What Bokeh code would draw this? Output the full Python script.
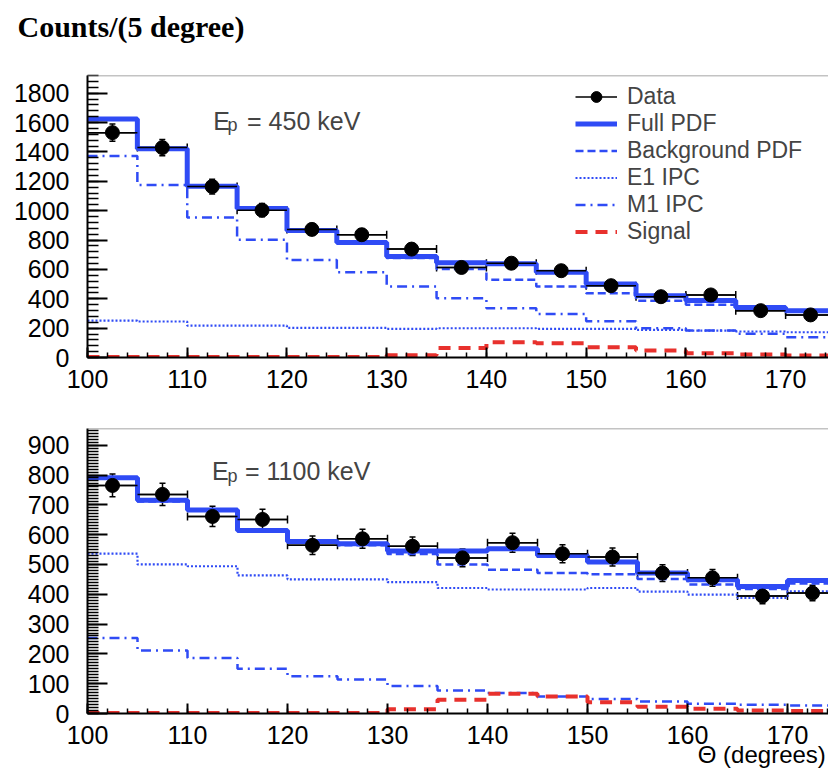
from bokeh.plotting import figure
from bokeh.models import (ColumnDataSource, Range1d, FixedTicker, Legend, LegendItem,
                          Whisker, TeeHead, Label, Span, Title)
from bokeh.layouts import column
from bokeh.embed import file_html
from bokeh.resources import INLINE

# ---------------- data ----------------
theta_edges = [100, 105, 110, 115, 120, 125, 130, 135, 140, 145, 150, 155, 160, 165, 170, 175]

# Ep = 450 keV
data_450 = [1531, 1429, 1164, 1003, 872, 836, 738, 613, 642, 591, 489, 414, 426, 319, 290]
err_450 = [58, 56, 50, 45, 40, 40, 36, 30, 32, 30, 27, 24, 25, 22, 20]
full_450 = [1624, 1422, 1166, 1014, 865, 783, 688, 645, 638, 580, 500, 420, 388, 340, 318]
bkg_450 = [1621, 1420, 1166, 1014, 864, 782, 677, 602, 530, 484, 438, 387, 360, 333, 312]
e1_450 = [251, 245, 217, 217, 202, 202, 195, 199, 199, 195, 195, 188, 183, 177, 172]
m1_450 = [1372, 1175, 953, 802, 664, 580, 484, 403, 335, 297, 247, 199, 183, 161, 138]
sig_450 = [3, 3, 3, 3, 3, 3, 16, 64, 104, 97, 70, 48, 29, 20, 14]

# Ep = 1100 keV
data_1100 = [765, 735, 661, 651, 564, 586, 561, 522, 573, 536, 525, 471, 455, 394, 404]
err_1100 = [38, 37, 34, 34, 31, 32, 31, 30, 32, 30, 30, 28, 28, 26, 26]
full_1100 = [791, 715, 683, 614, 577, 569, 545, 545, 553, 530, 508, 471, 449, 426, 446]
bkg_1100 = [789, 711, 680, 613, 575, 564, 535, 500, 482, 471, 467, 451, 433, 418, 436]
e1_1100 = [536, 500, 494, 463, 450, 450, 441, 421, 416, 416, 421, 409, 399, 388, 410]
m1_1100 = [253, 211, 186, 150, 125, 114, 92, 77, 69, 57, 49, 40, 33, 29, 27]
sig_1100 = [2, 2, 2, 2, 2, 2, 14, 46, 66, 57, 38, 23, 16, 10, 8]

x_major = [100, 110, 120, 130, 140, 150, 160, 170]
y_major_450 = [0, 200, 400, 600, 800, 1000, 1200, 1400, 1600, 1800]
y_major_1100 = [0, 100, 200, 300, 400, 500, 600, 700, 800, 900]

legend_labels = ["Data", "Full PDF", "Background PDF", "E1 IPC", "M1 IPC", "Signal"]
y_title = "Counts/(5 degree)"
x_title = "Θ (degrees)"

BLUE = "#2f4bf5"
RED = "#e8312d"
FONT = "Liberation Sans"


def panel(width, height, x_end, y_end, bl, bt, bb, data, err, full, bkg, e1, m1, sig,
          y_major, y_minor_step, with_legend):
    p = figure(width=width, height=height, output_backend="svg", toolbar_location=None,
               x_range=Range1d(100, x_end), y_range=Range1d(0, y_end),
               min_border_left=bl, min_border_right=0, min_border_top=bt,
               min_border_bottom=bb, outline_line_color=None)
    p.xgrid.visible = False
    p.ygrid.visible = False

    xs = [(theta_edges[i] + theta_edges[i + 1]) / 2 for i in range(len(data))]
    src = ColumnDataSource(dict(
        x=xs, y=data,
        x_lo=theta_edges[:-1], x_hi=theta_edges[1:],
        y_lo=[d - e for d, e in zip(data, err)],
        y_hi=[d + e for d, e in zip(data, err)],
    ))

    def step(vals, **kw):
        return p.step(x=theta_edges, y=list(vals) + [vals[-1]], mode="after", **kw)

    r_e1 = step(e1, line_color=BLUE, line_width=2.2, line_dash="2 2")
    r_m1 = step(m1, line_color=BLUE, line_width=2.5, line_dash="10 5 2 5")
    r_bkg = step(bkg, line_color=BLUE, line_width=2.5, line_dash="8 4")
    r_sig = step(sig, line_color=RED, line_width=4, line_dash="12 8")
    r_full = step(full, line_color=BLUE, line_width=5)

    r_h = p.segment(x0="x_lo", y0="y", x1="x_hi", y1="y", source=src,
                    line_color="black", line_width=1.5)
    p.add_layout(Whisker(source=src, base="y", lower="x_lo", upper="x_hi", dimension="width",
                         line_color="black", line_width=1.5,
                         lower_head=TeeHead(size=8, line_color="black", line_width=1.5),
                         upper_head=TeeHead(size=8, line_color="black", line_width=1.5)))
    p.add_layout(Whisker(source=src, base="x", lower="y_lo", upper="y_hi", dimension="height",
                         line_color="black", line_width=1.5,
                         lower_head=TeeHead(size=6, line_color="black", line_width=1.5),
                         upper_head=TeeHead(size=6, line_color="black", line_width=1.5)))
    r_pts = p.scatter(x="x", y="y", source=src, size=14, marker="circle",
                      fill_color="black", line_color="black")

    if with_legend:
        items = [LegendItem(label=legend_labels[0], renderers=[r_h, r_pts]),
                 LegendItem(label=legend_labels[1], renderers=[r_full]),
                 LegendItem(label=legend_labels[2], renderers=[r_bkg]),
                 LegendItem(label=legend_labels[3], renderers=[r_e1]),
                 LegendItem(label=legend_labels[4], renderers=[r_m1]),
                 LegendItem(label=legend_labels[5], renderers=[r_sig])]
        leg = Legend(items=items, location=(488, 112), padding=0, margin=0, spacing=0,
                     glyph_height=27, label_height=27, glyph_width=42, label_standoff=10,
                     label_text_font=FONT, label_text_font_size="23px",
                     background_fill_alpha=0, border_line_color=None)
        p.add_layout(leg)

    p.add_layout(Span(location=y_end, dimension="width", line_color="#888888", line_width=1.5))

    for ax in (p.xaxis[0], p.yaxis[0]):
        ax.axis_line_width = 2
        ax.major_tick_out = 0
        ax.minor_tick_out = 0
        ax.major_tick_line_width = 2
        ax.minor_tick_line_width = 1.5
        ax.major_label_text_font = FONT
        ax.major_label_text_font_size = "25px"
        ax.major_label_text_color = "black"
    p.xaxis.ticker = FixedTicker(ticks=x_major, minor_ticks=list(range(100, 176, 2)))
    p.xaxis.major_tick_in = 10
    p.xaxis.minor_tick_in = 5
    p.xaxis.major_label_standoff = 12
    p.yaxis.ticker = FixedTicker(ticks=y_major,
                                 minor_ticks=list(range(0, int(y_end) + 1, y_minor_step)))
    p.yaxis.major_tick_in = 20
    p.yaxis.minor_tick_in = 11
    p.yaxis.major_label_standoff = 18
    return p


p1 = panel(828, 408, 174.3, 1920, 87, 75, 51, data_450, err_450, full_450, bkg_450,
           e1_450, m1_450, sig_450, y_major_450, 40, True)
p2 = panel(828, 367, 174.1, 956, 79, 20, 62, data_1100, err_1100, full_1100, bkg_1100,
           e1_1100, m1_1100, sig_1100, y_major_1100, 10, False)

# title of the top panel, lifted by an empty spacer panel next to the frame
p1.add_layout(Title(text=" ", text_font_size="1px", standoff=25), "above")
p1.title.text = y_title
p1.title.text_font = "Liberation Serif"
p1.title.text_font_style = "bold"
p1.title.text_font_size = "30px"
p1.title.text_color = "black"
p1.title.offset = -70
p1.title.standoff = 10
p1.title.vertical_align = "bottom"

# x-axis title at the right end under the bottom panel
# (label is centred on the axis end, so trailing no-break spaces shift the glyphs left)
xa = p2.xaxis[0]
xa.axis_label = x_title + "\u00a0" * 20
xa.axis_label_text_font = FONT
xa.axis_label_text_font_size = "24px"
xa.axis_label_text_font_style = "normal"
xa.axis_label_text_color = "black"
xa.axis_label_standoff = -6
if "axis_label_align" in xa.properties():
    xa.axis_label_align = "end"

# energy labels with subscript
for p, xe, yb, xp, yp, xr, txt in [
        (p1, 112.6, 1610, 114.05, 1582, 116.0, "= 450 keV"),
        (p2, 112.45, 812, 114.0, 798, 115.75, "= 1100 keV")]:
    p.add_layout(Label(x=xe, y=yb, text="E", text_font=FONT, text_font_size="25px",
                       text_baseline="alphabetic"))
    p.add_layout(Label(x=xp, y=yp, text="p", text_font=FONT, text_font_size="18px",
                       text_baseline="alphabetic"))
    p.add_layout(Label(x=xr, y=yb, text=txt, text_font=FONT, text_font_size="25px",
                       text_baseline="alphabetic"))

layout = column(p1, p2, spacing=0)
open("out.html", "w").write(file_html(layout, INLINE))
